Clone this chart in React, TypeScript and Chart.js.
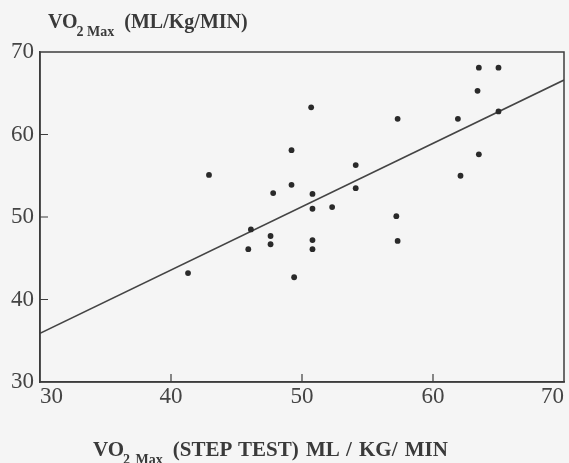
import React, { useEffect, useRef } from "react";
import { Chart, registerables } from "chart.js";

Chart.register(...registerables);

// Scatter data (VO2 max step test vs measured)
const xValues = [42.9, 41.3, 45.9, 46.1, 47.6, 47.6, 47.8, 49.2, 49.2, 49.4, 50.7, 50.8, 50.8, 50.8, 50.8, 52.3, 54.1, 54.1, 57.2, 57.3, 57.3, 61.9, 62.1, 63.4, 63.5, 65.0, 63.5, 65.0];
const yValues = [55.1, 43.2, 46.1, 48.5, 47.7, 46.7, 52.9, 58.1, 53.9, 42.7, 63.3, 52.8, 51.0, 47.2, 46.1, 51.2, 56.3, 53.5, 50.1, 47.1, 61.9, 61.9, 55.0, 65.3, 68.1, 68.1, 57.6, 62.8];
// Regression line end points
const lineX = [30, 70];
const lineY = [35.9, 66.6];
// Axis ticks
const xTicks = [30, 40, 50, 60, 70];
const yTicks = [30, 40, 50, 60, 70];

const INK = "#3d3d3d";
const FONT = "'Liberation Serif', 'Times New Roman', serif";

export default function App() {
  const ref = useRef<HTMLCanvasElement | null>(null);

  useEffect(() => {
    if (!ref.current) return;
    const frameAndTicks = {
      id: "frameAndTicks",
      afterDraw(chart: any) {
        const { ctx, chartArea, scales } = chart;
        ctx.save();
        ctx.strokeStyle = INK;
        ctx.lineWidth = 1.5;
        ctx.strokeRect(chartArea.left, chartArea.top, chartArea.right - chartArea.left, chartArea.bottom - chartArea.top);
        ctx.lineWidth = 1.2;
        ctx.beginPath();
        yTicks.slice(1, -1).forEach((v) => {
          const y = scales.y.getPixelForValue(v);
          ctx.moveTo(chartArea.left, y);
          ctx.lineTo(chartArea.left + 8, y);
        });
        xTicks.slice(1, -1).forEach((v) => {
          const x = scales.x.getPixelForValue(v);
          ctx.moveTo(x, chartArea.bottom);
          ctx.lineTo(x, chartArea.bottom - 8);
        });
        ctx.stroke();
        ctx.restore();
      },
    };
    const chart = new Chart(ref.current, {
      type: "scatter",
      data: {
        datasets: [
          {
            type: "scatter",
            data: xValues.map((x, i) => ({ x, y: yValues[i] })),
            backgroundColor: "#2a2a2a",
            borderColor: "#2a2a2a",
            pointRadius: 2.9,
            pointBorderWidth: 0,
          },
          {
            type: "line",
            data: lineX.map((x, i) => ({ x, y: lineY[i] })),
            borderColor: "#444",
            borderWidth: 1.6,
            pointRadius: 0,
            fill: false,
          } as any,
        ],
      },
      options: {
        responsive: false,
        animation: false,
        layout: { padding: { left: 0, top: 52, right: 5, bottom: 0 } },
        plugins: { legend: { display: false }, tooltip: { enabled: false }, title: { display: false } },
        scales: {
          x: {
            type: "linear",
            min: 30,
            max: 70,
            afterBuildTicks: (axis: any) => {
              axis.ticks = xTicks.map((v) => ({ value: v }));
            },
            afterFit: (axis: any) => {
              axis.height = 81;
              axis.paddingRight = 0;
              axis.paddingLeft = 0;
            },
            grid: { drawOnChartArea: false, drawTicks: false },
            border: { color: INK, width: 1.5 },
            ticks: { color: "#444", font: { family: FONT, size: 23 }, padding: 1, align: "inner" },
          },
          y: {
            type: "linear",
            min: 30,
            max: 70,
            afterBuildTicks: (axis: any) => {
              axis.ticks = yTicks.map((v) => ({ value: v }));
            },
            afterFit: (axis: any) => {
              axis.width = 40;
              axis.paddingTop = 0;
              axis.paddingBottom = 0;
            },
            grid: { drawOnChartArea: false, drawTicks: false },
            border: { color: INK, width: 1.5 },
            ticks: { color: "#444", font: { family: FONT, size: 23 }, padding: 6 },
          },
        },
      },
      plugins: [frameAndTicks],
    } as any);
    return () => chart.destroy();
  }, []);

  const titleStyle: React.CSSProperties = {
    position: "absolute",
    whiteSpace: "nowrap",
    fontFamily: FONT,
    fontWeight: "bold",
    color: "#3a3a3a",
    lineHeight: "20px",
  };
  const subStyle: React.CSSProperties = {
    fontSize: 14,
    position: "relative",
    top: 8,
    marginLeft: -1,
  };

  return (
    <div style={{ position: "absolute", left: 0, top: 0, width: 569, height: 463, background: "#f5f5f5", overflow: "hidden" }}>
      <canvas ref={ref} width={569} height={463} style={{ position: "absolute", left: 0, top: 0 }} />
      <div style={{ ...titleStyle, left: 48, top: 11, fontSize: 20 }}>
        VO<span style={subStyle}>2 Max</span>
        <span style={{ marginLeft: 10 }}>(ML/Kg/MIN)</span>
      </div>
      <div style={{ ...titleStyle, left: 93, top: 439, fontSize: 21, wordSpacing: 2 }}>
        VO<span style={subStyle}>2 Max</span>
        <span style={{ marginLeft: 10 }}>(STEP TEST) ML / KG/ MIN</span>
      </div>
    </div>
  );
}
